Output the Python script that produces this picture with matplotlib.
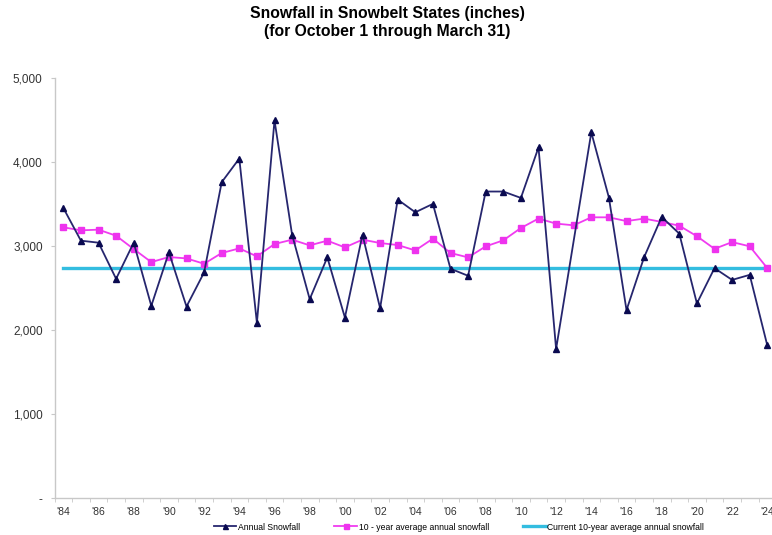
import numpy as np
import matplotlib
matplotlib.use("Agg")
import matplotlib.pyplot as plt
from matplotlib.ticker import FuncFormatter, MultipleLocator, FixedLocator

plt.rcParams['font.family'] = ['Liberation Sans', 'DejaVu Sans']

years = np.arange(1984, 2025)

# annual snowfall, 2013 has no marker in the source (line joins 2012 to 2014)
annual = [3457, 3067, 3043, 2613, 3043, 2291, 2928, 2283, 2689, 3763,
          4045, 2088, 4499, 3138, 2371, 2868, 2152, 3138, 2263, 3556,
          3405, 3505, 2733, 2649, 3652, 3652, 3576, 4177, 1778, None,
          4356, 3580, 2240, 2870, 3350, 3150, 2320, 2740, 2600, 2660,
          1820]

ten_year_avg = [3226, 3190, 3198, 3126, 2967, 2812, 2872, 2856, 2792, 2920,
                2975, 2880, 3027, 3079, 3011, 3067, 2987, 3079, 3039, 3015,
                2951, 3091, 2920, 2868, 2999, 3071, 3218, 3330, 3270, 3250,
                3345, 3345, 3300, 3330, 3290, 3245, 3120, 2970, 3050, 3000,
                2740]

current_avg = 2740

title = "Snowfall in Snowbelt States (inches)\n(for October 1 through March 31)"
labels = ["Annual Snowfall",
          "10 - year average annual snowfall",
          "Current 10-year average annual snowfall"]

annual = np.array([np.nan if v is None else v for v in annual], dtype=float)
ok = ~np.isnan(annual)

fig = plt.figure(figsize=(7.72, 5.35), dpi=100)
ax = fig.add_axes((54.5 / 772, 1 - 498.3 / 535, 721.6 / 772, 420 / 535))

ax.plot(years, np.full(len(years), current_avg), color='#33bde0', lw=2.4,
        label=labels[2], zorder=2)
ax.plot(years, ten_year_avg, color='#f03cf0', lw=1.3, marker='s', ms=4.5,
        mfc='#ee33ee', mec='#ee33ee', label=labels[1], zorder=3)
ax.plot(years[ok], annual[ok], color='#26266e', lw=1.3, marker='^', ms=4.5,
        mfc='#0a0a50', mec='#0a0a50', label=labels[0], zorder=4)

ax.set_xlim(1983.5, 2024.5)
ax.set_ylim(0, 5000)

ax.yaxis.set_major_locator(MultipleLocator(1000))
ax.yaxis.set_major_formatter(FuncFormatter(lambda v, p: '-' if v == 0 else f'{v:,.0f}'))

ax.xaxis.set_major_locator(FixedLocator(years[::2]))
ax.xaxis.set_major_formatter(FuncFormatter(lambda v, p: "'" + f'{int(v) % 100:02d}'))
ax.xaxis.set_minor_locator(FixedLocator(np.arange(1983.5, 2025, 1)))

for s in ['top', 'right']:
    ax.spines[s].set_visible(False)
for s in ['left', 'bottom']:
    ax.spines[s].set_color('#c8c8c8')
    ax.spines[s].set_linewidth(1.0)

ax.tick_params(axis='y', length=3, color='#c8c8c8', labelsize=8.5, pad=5.5, labelcolor='#333333')
ax.tick_params(axis='x', which='major', length=0, labelsize=7.5, pad=6, labelcolor='#333333')
ax.tick_params(axis='x', which='minor', length=3, color='#c8c8c8', direction='out')

fig.text(387 / 772, 1 - 22.5 / 535, title, ha='center', va='center',
         fontsize=11.3, fontweight='bold', linespacing=1.3)

handles, labs = ax.get_legend_handles_labels()
order = [2, 1, 0]
fig.legend([handles[i] for i in order], [labs[i] for i in order],
           loc='center', bbox_to_anchor=(459 / 772, 1 - 527 / 535), ncol=3,
           frameon=False, fontsize=6.2, handlelength=2.6, handletextpad=0.2,
           columnspacing=4.0, numpoints=1, markerscale=0.8,
           borderpad=0, borderaxespad=0)

fig.savefig('out.png', dpi=100)
